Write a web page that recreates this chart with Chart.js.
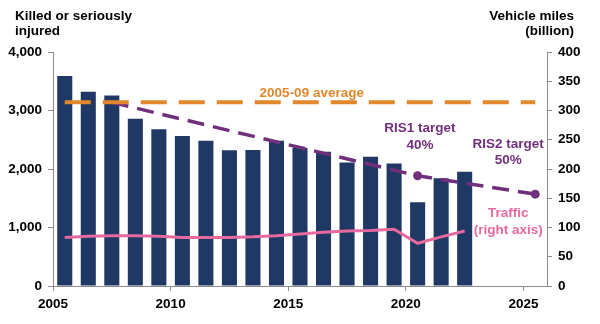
<!DOCTYPE html>
<html>
<head>
<meta charset="utf-8">
<script src="https://cdn.jsdelivr.net/npm/chart.js@4.4.0/dist/chart.umd.min.js"></script>
<style>
  html, body { margin: 0; padding: 0; background: #fff; }
  #wrap { width: 600px; height: 324px; }
</style>
</head>
<body>
<div id="wrap"><canvas id="chart"></canvas></div>
<script>
// Killed or seriously injured, by year
var years = [2005, 2006, 2007, 2008, 2009, 2010, 2011, 2012, 2013, 2014, 2015, 2016, 2017, 2018, 2019, 2020, 2021, 2022];
var ksi = [3590, 3320, 3255, 2860, 2680, 2565, 2485, 2320, 2325, 2485, 2360, 2295, 2110, 2210, 2095, 1430, 1840, 1955];
// Traffic, vehicle miles (billion), right axis
var traffic = [83, 85, 86, 86, 85, 83, 83, 83, 84, 86, 89, 92, 94, 95, 97, 73, 84, 94];
// 2005-09 average and the RIS targets
var avgYears = [2005, 2025];
var avgValues = [3140, 3140];
var targetYears = [2007, 2020, 2025];
var targetValues = [3140, 1884, 1570];
var targetDots = [0, 4.5, 4.5];
var xTicks = [2005, 2010, 2015, 2020, 2025];

var NAVY = '#1f3864', ORANGE = '#e1872c', PURPLE = '#70307c', PINK = '#e6699f', AXIS = '#8c8c8c';
var FONT = { family: '"Liberation Sans", Arial, sans-serif', size: 13.5, weight: 'bold' };

// each year is drawn in the middle of its slot, labels sit on the slot edges
function mid(y) { return y + 0.5; }
function pts(xs, ys) {
  return xs.map(function(x, i) { return { x: mid(x), y: ys[i] }; });
}

var labelsPlugin = {
  id: 'labels',
  afterDatasetsDraw: function(chart) {
    var ctx = chart.ctx, x = chart.scales.x, y = chart.scales.y, y2 = chart.scales.y2;
    ctx.save();
    ctx.font = 'bold 13.5px "Liberation Sans", Arial, sans-serif';
    ctx.textBaseline = 'middle';

    ctx.fillStyle = '#000';
    ctx.textAlign = 'left';
    ctx.fillText('Killed or seriously', 15, 16);
    ctx.fillText('injured', 15, 31);
    ctx.textAlign = 'right';
    ctx.fillText('Vehicle miles', 574, 16);
    ctx.fillText('(billion)', 574, 31);

    ctx.textAlign = 'center';
    ctx.fillStyle = ORANGE;
    ctx.fillText('2005-09 average', x.getPixelForValue(2016), y.getPixelForValue(avgValues[0]) - 9);

    ctx.fillStyle = PURPLE;
    var rx = x.getPixelForValue(2020.6);
    ctx.fillText('RIS1 target', rx, 128);
    ctx.fillText('40%', rx, 145);
    var r2 = x.getPixelForValue(2024.35);
    ctx.fillText('RIS2 target', r2, 144);
    ctx.fillText('50%', r2, 160);

    ctx.fillStyle = PINK;
    ctx.fillText('Traffic', r2, y2.getPixelForValue(124));
    ctx.fillText('(right axis)', r2, y2.getPixelForValue(95));
    ctx.restore();
  }
};

new Chart(document.getElementById('chart'), {
  type: 'bar',
  data: {
    datasets: [{
      type: 'line',
      data: pts(avgYears, avgValues),
      borderColor: ORANGE,
      borderWidth: 4,
      borderDash: [26, 12],
      pointRadius: 0,
      order: 1
    }, {
      type: 'line',
      data: pts(targetYears, targetValues),
      borderColor: PURPLE,
      borderWidth: 3.5,
      borderDash: [17, 9],
      pointRadius: targetDots,
      pointBackgroundColor: PURPLE,
      pointBorderWidth: 0,
      order: 2
    }, {
      type: 'line',
      data: pts(years, traffic),
      yAxisID: 'y2',
      borderColor: PINK,
      borderWidth: 3,
      pointRadius: 0,
      order: 3
    }, {
      data: pts(years, ksi),
      backgroundColor: NAVY,
      barPercentage: 0.64,
      categoryPercentage: 1,
      order: 10
    }]
  },
  options: {
    responsive: true,
    maintainAspectRatio: false,
    animation: false,
    devicePixelRatio: 1,
    layout: { padding: { top: 52, left: 0, right: 0, bottom: 0 } },
    plugins: { legend: { display: false }, tooltip: { enabled: false } },
    scales: {
      x: {
        type: 'linear',
        min: 2005, max: 2026,
        offset: false,
        grid: { offset: false, drawOnChartArea: false, tickLength: 5, color: AXIS },
        border: { color: AXIS },
        afterBuildTicks: function(s) {
          s.ticks = xTicks.map(function(v) { return { value: v }; });
        },
        afterFit: function(s) { s.height = 38; },
        ticks: {
          color: '#000', font: FONT, padding: 5, maxRotation: 0,
          callback: function(v) { return String(v); }
        }
      },
      y: {
        min: 0, max: 4000,
        grid: { drawOnChartArea: false, tickLength: 5, color: AXIS },
        border: { color: AXIS },
        afterFit: function(s) { s.width = 53; },
        ticks: {
          stepSize: 1000, color: '#000', font: FONT, padding: 6,
          callback: function(v) { return v.toLocaleString('en-GB'); }
        }
      },
      y2: {
        position: 'right',
        min: 0, max: 400,
        grid: { drawOnChartArea: false, tickLength: 5, color: AXIS },
        border: { color: AXIS },
        afterFit: function(s) { s.width = 53; },
        ticks: { stepSize: 50, color: '#000', font: FONT, padding: 6 }
      }
    }
  },
  plugins: [labelsPlugin]
});
</script>
</body>
</html>
